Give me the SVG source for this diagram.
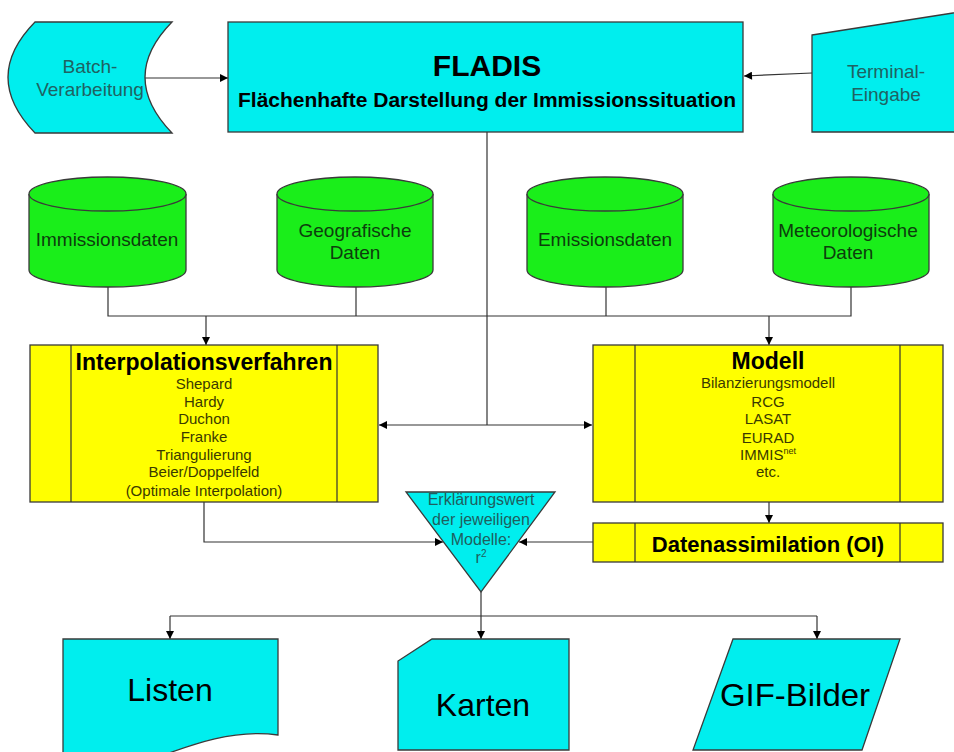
<svg xmlns="http://www.w3.org/2000/svg" width="954" height="752" viewBox="0 0 954 752">
<style>
.cy{fill:#00eeee;stroke:#3a3a3a;stroke-width:1.3}
.gr{fill:#1aee1a;stroke:#3a3a3a;stroke-width:1.3}
.ye{fill:#ffff00;stroke:#3a3a3a;stroke-width:1.3}
.ln{fill:none;stroke:#333;stroke-width:1.2}
text{font-family:"Liberation Sans",Arial,sans-serif;text-anchor:middle}
.teal{fill:#1f6262;font-size:19px}
.dat{fill:#0d3d0d;font-size:19px}
.tt{font-weight:bold;fill:#000}
.it{fill:#3a3a00;font-size:15px}
.big{fill:#000;font-size:32px}
.tri{fill:#1f5e5e;font-size:16px}
</style>
<defs>
<marker id="ah" viewBox="0 0 10 10" refX="10" refY="5" markerWidth="9" markerHeight="8" markerUnits="userSpaceOnUse" orient="auto">
<path d="M0,0 L10,5 L0,10 Z" fill="#000"/>
</marker>
<marker id="ahs" viewBox="0 0 10 10" refX="0" refY="5" markerWidth="9" markerHeight="8" markerUnits="userSpaceOnUse" orient="auto">
<path d="M10,0 L0,5 L10,10 Z" fill="#000"/>
</marker>
</defs>
<rect width="954" height="752" fill="#fff"/>

<g id="connectors">
<line class="ln" x1="145" y1="78" x2="228" y2="78" marker-end="url(#ah)"/>
<line class="ln" x1="812" y1="73" x2="744" y2="76" marker-end="url(#ah)"/>
<polyline class="ln" points="487,132 487,425"/>
<line class="ln" x1="379" y1="425" x2="592" y2="425" marker-start="url(#ahs)" marker-end="url(#ah)"/>
<polyline class="ln" points="108,287 108,316 851,316 851,287"/>
<line class="ln" x1="356" y1="287" x2="356" y2="316"/>
<line class="ln" x1="606" y1="287" x2="606" y2="316"/>
<line class="ln" x1="206" y1="316" x2="206" y2="345" marker-end="url(#ah)"/>
<line class="ln" x1="769" y1="316" x2="769" y2="345" marker-end="url(#ah)"/>
<line class="ln" x1="769" y1="502" x2="769" y2="523" marker-end="url(#ah)"/>
<polyline class="ln" points="204,502 204,542 443,542" marker-end="url(#ah)"/>
<line class="ln" x1="593" y1="542" x2="519" y2="542" marker-end="url(#ah)"/>
<polyline class="ln" points="481,592 481,616"/>
<line class="ln" x1="170" y1="616" x2="817" y2="616"/>
<line class="ln" x1="170" y1="616" x2="170" y2="639" marker-end="url(#ah)"/>
<line class="ln" x1="481" y1="616" x2="481" y2="639" marker-end="url(#ah)"/>
<line class="ln" x1="817" y1="616" x2="817" y2="639" marker-end="url(#ah)"/>
</g>

<g id="batch">
<path class="cy" d="M35,22 H172 Q118,77 172,133 H35 Q-19,77 35,22 Z"/>
<text class="teal" x="90" y="73">Batch-</text>
<text class="teal" x="90" y="96">Verarbeitung</text>
</g>

<g id="fladis">
<rect class="cy" x="228" y="22" width="515" height="110"/>
<text class="tt" x="487" y="76" font-size="30">FLADIS</text>
<text class="tt" x="487" y="107" font-size="20" textLength="498" lengthAdjust="spacingAndGlyphs">Flächenhafte Darstellung der Immissionssituation</text>
</g>

<g id="terminal">
<path class="cy" d="M812,35 L953,13 L960,12 L960,132 L812,132 Z"/>
<text class="teal" x="886" y="78">Terminal-</text>
<text class="teal" x="886" y="101">Eingabe</text>
</g>

<g id="immissionsdaten">
<path class="gr" d="M29,194 V270 A78.5,17 0 0 0 186,270 V194"/>
<ellipse class="gr" cx="107.5" cy="194" rx="78.5" ry="17"/>
<text class="dat" x="107" y="246">Immissionsdaten</text>
</g>

<g id="geografische">
<path class="gr" d="M277,194 V270 A78,17 0 0 0 433,270 V194"/>
<ellipse class="gr" cx="355" cy="194" rx="78" ry="17"/>
<text class="dat" x="355" y="237">Geografische</text>
<text class="dat" x="355" y="259">Daten</text>
</g>

<g id="emissionsdaten">
<path class="gr" d="M527,194 V270 A78,17 0 0 0 683,270 V194"/>
<ellipse class="gr" cx="605" cy="194" rx="78" ry="17"/>
<text class="dat" x="605" y="246">Emissionsdaten</text>
</g>

<g id="meteorologische">
<path class="gr" d="M773,194 V270 A78,17 0 0 0 929,270 V194"/>
<ellipse class="gr" cx="851" cy="194" rx="78" ry="17"/>
<text class="dat" x="848" y="237">Meteorologische</text>
<text class="dat" x="848" y="259">Daten</text>
</g>

<g id="interpolation">
<rect class="ye" x="30" y="345" width="348" height="157"/>
<line class="ln" x1="71" y1="345" x2="71" y2="502"/>
<line class="ln" x1="337" y1="345" x2="337" y2="502"/>
<text class="tt" x="204" y="370" font-size="23">Interpolationsverfahren</text>
<text class="it" x="204" y="389">Shepard</text>
<text class="it" x="204" y="407">Hardy</text>
<text class="it" x="204" y="424">Duchon</text>
<text class="it" x="204" y="442">Franke</text>
<text class="it" x="204" y="460">Triangulierung</text>
<text class="it" x="204" y="477">Beier/Doppelfeld</text>
<text class="it" x="204" y="496">(Optimale Interpolation)</text>
</g>

<g id="modell">
<rect class="ye" x="593" y="345" width="350" height="157"/>
<line class="ln" x1="635" y1="345" x2="635" y2="502"/>
<line class="ln" x1="900" y1="345" x2="900" y2="502"/>
<text class="tt" x="768" y="369" font-size="23">Modell</text>
<text class="it" x="768" y="388">Bilanzierungsmodell</text>
<text class="it" x="768" y="407">RCG</text>
<text class="it" x="768" y="424">LASAT</text>
<text class="it" x="768" y="443">EURAD</text>
<text class="it" x="768" y="460">IMMIS<tspan font-size="9" dy="-6">net</tspan></text>
<text class="it" x="768" y="477">etc.</text>
</g>

<g id="datenassimilation">
<rect class="ye" x="593" y="523" width="350" height="39"/>
<line class="ln" x1="635" y1="523" x2="635" y2="562"/>
<line class="ln" x1="900" y1="523" x2="900" y2="562"/>
<text class="tt" x="768" y="552" font-size="22">Datenassimilation (OI)</text>
</g>

<g id="erklaerungswert">
<path class="cy" d="M406,492 L555,492 L481,592 Z"/>
<text class="tri" x="481" y="505">Erklärungswert</text>
<text class="tri" x="481" y="525">der jeweiligen</text>
<text class="tri" x="481" y="545">Modelle:</text>
<text class="tri" x="481" y="563">r<tspan font-size="10" dy="-6">2</tspan></text>
</g>

<g id="listen">
<path class="cy" d="M63,639 H278 V735 C235,729 195,743 150,760 L63,780 Z"/>
<text class="big" x="170" y="701">Listen</text>
</g>

<g id="karten">
<path class="cy" d="M432,639 H569 V750 H398 V661 Z"/>
<text class="big" x="483" y="716">Karten</text>
</g>

<g id="gif">
<path class="cy" d="M733,639 H900 L862,750 H693 Z"/>
<text class="big" x="795" y="706" textLength="150" lengthAdjust="spacingAndGlyphs">GIF-Bilder</text>
</g>
</svg>
